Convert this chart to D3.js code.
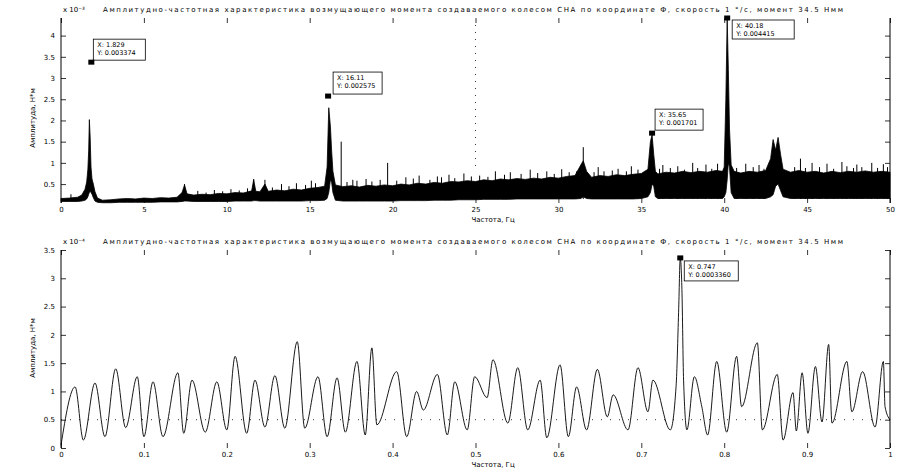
<!DOCTYPE html>
<html><head><meta charset="utf-8">
<script src="https://cdn.jsdelivr.net/npm/d3@7"></script>
<style>
body{margin:0;background:#fff}
text{font-family:"DejaVu Sans",sans-serif;fill:#000}
</style>
</head><body>
<svg id="c" width="906" height="471"></svg>
<script>
// ---------- text ----------
const titleText = "Амплитудно-частотная характеристика возмущающего момента создаваемого колесом СНА по координате Ф, скорость 1 °/с, момент 34.5 Нмм";
const yTitle = "Амплитуда, Н*м";
const xTitle = "Частота, Гц";

// ---------- top panel (values ×10^-3) ----------
const topTicksX = [0,5,10,15,20,25,30,35,40,45,50];
const topTicksY = [0.5,1,1.5,2,2.5,3,3.5,4];
const topF  = [0,0.5,1,1.25,1.45,1.55,1.62,1.67,1.71,1.76,1.81,1.87,1.95,2.05,2.2,2.5,3,3.5,4,4.5,5,5.5,6,6.5,7,7.3,7.45,7.6,8,8.5,9,9.5,10,10.5,11,11.5,11.62,11.75,12,12.3,12.5,13,13.5,14,14.5,15,15.5,15.9,16.05,16.15,16.25,16.32,16.4,16.55,17,17.5,18,18.5,19,19.5,20,20.5,21,21.5,22,22.5,23,23.5,24,24.5,25,25.5,26,26.5,27,27.5,28,28.5,29,29.5,30,30.5,31,31.35,31.5,31.7,32,32.5,33,33.5,34,34.5,35,35.4,35.55,35.65,35.75,35.85,36,36.5,37,37.5,38,38.5,39,39.5,39.9,40,40.1,40.18,40.25,40.32,40.42,40.6,41,41.5,42,42.5,42.8,42.95,43.1,43.25,43.4,43.55,44,44.5,45,45.5,46,46.5,47,47.5,48,48.5,49,49.5,50];
const topHi = [0.16,0.17,0.19,0.24,0.38,0.55,0.85,1.3,2.02,1.6,0.9,0.62,0.5,0.32,0.17,0.12,0.13,0.15,0.16,0.15,0.17,0.16,0.18,0.17,0.19,0.3,0.48,0.27,0.24,0.26,0.25,0.28,0.27,0.3,0.29,0.34,0.6,0.33,0.32,0.5,0.33,0.36,0.34,0.38,0.36,0.4,0.42,0.45,0.9,2.3,1.85,1.3,0.8,0.48,0.44,0.46,0.43,0.47,0.45,0.48,0.46,0.5,0.48,0.52,0.5,0.54,0.52,0.56,0.55,0.58,0.56,0.6,0.58,0.62,0.6,0.63,0.61,0.64,0.62,0.66,0.64,0.68,0.7,0.95,1.05,0.8,0.66,0.7,0.68,0.72,0.7,0.73,0.75,0.85,1.5,1.66,1.2,0.8,0.74,0.78,0.76,0.8,0.77,0.8,0.78,0.82,0.8,0.9,2.5,4.415,3.2,1.8,0.95,0.8,0.76,0.8,0.78,0.82,1.1,1.55,1.3,1.6,1.2,0.85,0.78,0.82,0.78,0.8,0.76,0.8,0.77,0.8,0.78,0.81,0.78,0.8,0.78];
const topLo = [0.09,0.09,0.09,0.1,0.12,0.15,0.2,0.26,0.3,0.33,0.3,0.26,0.18,0.1,0.07,0.06,0.06,0.07,0.07,0.07,0.07,0.07,0.08,0.08,0.08,0.09,0.1,0.1,0.09,0.09,0.09,0.09,0.09,0.1,0.1,0.1,0.11,0.11,0.1,0.1,0.1,0.1,0.1,0.1,0.1,0.11,0.11,0.12,0.16,0.3,0.6,0.55,0.3,0.12,0.1,0.1,0.1,0.1,0.1,0.1,0.1,0.11,0.11,0.11,0.11,0.12,0.12,0.12,0.13,0.13,0.13,0.14,0.14,0.14,0.14,0.15,0.15,0.15,0.15,0.15,0.15,0.15,0.15,0.16,0.2,0.16,0.15,0.15,0.15,0.15,0.15,0.15,0.16,0.2,0.3,0.5,0.45,0.2,0.16,0.16,0.16,0.16,0.16,0.16,0.16,0.16,0.16,0.2,0.3,0.6,1.0,0.9,0.3,0.16,0.16,0.16,0.16,0.16,0.2,0.25,0.45,0.5,0.35,0.2,0.16,0.16,0.16,0.16,0.16,0.16,0.16,0.16,0.16,0.16,0.16,0.16,0.16];
const topSpikeF = [0.6,7.45,8.25,8.75,9.25,9.75,10.25,10.75,11.25,11.62,12.3,12.75,13.3,13.75,14.2,14.75,15.1,15.35,16.9,17.25,17.6,17.85,18.4,18.75,19.25,19.7,20.25,20.8,21.25,21.6,22.25,22.7,22.95,23.4,23.75,24.3,24.75,25.25,25.75,26.2,26.75,27.1,27.75,28.3,28.75,29.3,29.75,30.2,30.65,31.1,31.5,32.15,32.4,32.75,33.25,33.6,34.1,34.4,34.8,36.1,36.3,36.75,37.2,37.6,38.1,38.4,38.9,39.25,39.6,40.75,41.3,41.75,42.1,42.4,44.25,44.6,44.9,45.3,45.75,46.2,46.6,47.1,47.4,47.8,48.0,48.3,48.9,49.25,49.6,49.85];
const topSpikeV = [0.26,0.5,0.34,0.3,0.36,0.33,0.38,0.35,0.4,0.62,0.6,0.42,0.5,0.45,0.52,0.48,0.58,0.52,1.5,0.55,0.6,0.58,0.62,0.56,0.6,1.0,0.58,0.66,0.63,0.7,0.6,0.68,0.66,0.72,0.64,0.75,0.68,0.7,0.67,0.8,0.72,0.78,0.74,0.84,0.76,0.8,0.74,0.85,0.78,0.8,1.37,0.78,0.9,0.8,0.82,0.86,0.8,0.92,0.84,0.86,0.95,0.88,0.92,0.84,1.0,0.88,0.96,0.86,0.98,0.88,0.98,0.9,0.95,0.86,0.9,1.1,0.88,1.0,0.9,0.98,0.86,1.02,0.92,0.88,0.96,0.9,1.0,0.88,0.97,0.9];
const topTipX = [1.829,16.11,35.65,40.18];
const topTipY = [3.374,2.575,1.701,4.415];
const topTipTextX = ["X: 1.829","X: 16.11","X: 35.65","X: 40.18"];
const topTipTextY = ["Y: 0.003374","Y: 0.002575","Y: 0.001701","Y: 0.004415"];

// ---------- bottom panel (values ×10^-4) ----------
const botTicksX = [0,0.1,0.2,0.3,0.4,0.5,0.6,0.7,0.8,0.9,1];
const botTicksY = [0,0.5,1,1.5,2,2.5,3,3.5];
const botF = [0,0.017,0.027,0.041,0.053,0.066,0.078,0.092,0.1,0.111,0.123,0.141,0.148,0.158,0.174,0.188,0.2,0.21,0.224,0.234,0.246,0.258,0.27,0.285,0.294,0.31,0.321,0.333,0.343,0.357,0.367,0.375,0.381,0.405,0.417,0.429,0.437,0.454,0.466,0.475,0.49,0.499,0.514,0.521,0.539,0.551,0.563,0.578,0.586,0.602,0.612,0.622,0.634,0.647,0.659,0.666,0.684,0.696,0.708,0.714,0.735,0.742,0.745,0.747,0.749,0.751,0.755,0.764,0.773,0.78,0.791,0.803,0.815,0.821,0.84,0.846,0.864,0.871,0.883,0.887,0.894,0.901,0.91,0.918,0.926,0.93,0.948,0.954,0.967,0.982,0.992,0.994,1];
const botV = [0.05,1.08,0.14,1.15,0.2,1.4,0.36,1.26,0.2,1.17,0.2,1.33,0.26,1.2,0.28,1.17,0.32,1.62,0.26,1.2,0.37,1.28,0.35,1.88,0.35,1.26,0.2,1.24,0.28,1.53,0.23,1.77,0.41,1.35,0.2,1.0,0.67,1.3,0.23,1.17,0.32,1.26,0.89,1.56,0.44,1.42,0.32,1.2,0.18,1.47,0.2,1.08,0.32,1.39,0.55,0.94,0.32,1.42,0.64,1.2,0.32,1.1,2.4,3.36,2.8,1.2,0.32,1.26,0.73,0.23,1.53,0.28,1.62,0.73,1.86,0.32,1.3,0.14,0.98,0.3,1.33,0.26,1.44,0.46,1.83,0.44,1.53,0.64,1.35,0.37,1.53,0.73,0.5];
const botTipX = [0.747];
const botTipY = [3.36];
const botTipTextX = ["X: 0.747"];
const botTipTextY = ["Y: 0.0003360"];

// ---------- drawing ----------
const svg = d3.select("#c");
svg.append("rect").attr("width",906).attr("height",471).attr("fill","#fff");
const L = 61, R = 890;

function panel(cfg){
  const g = svg.append("g");
  const x = d3.scaleLinear().domain(cfg.xDomain).range([L,R]);
  const y = d3.scaleLinear().domain(cfg.yDomain).range([cfg.bottom,cfg.top]);

  g.append("text").attr("x",103).attr("y",cfg.top-6).attr("font-size",7)
    .attr("textLength",740).attr("lengthAdjust","spacing").text(titleText);
  g.append("text").attr("x",63).attr("y",cfg.top-6).attr("font-size",7).text(cfg.expo);

  const ax = g.append("g").attr("transform",`translate(0,${cfg.bottom})`)
    .call(d3.axisBottom(x).tickValues(cfg.ticksX).tickSize(-5).tickPadding(4).tickFormat(cfg.fmtX));
  const axTop = g.append("g").attr("transform",`translate(0,${cfg.top})`)
    .call(d3.axisTop(x).tickValues(cfg.ticksX).tickSize(-5).tickFormat(""));
  const ay = g.append("g").attr("transform",`translate(${L},0)`)
    .call(d3.axisLeft(y).tickValues(cfg.ticksY).tickSize(-5).tickPadding(6).tickFormat(d3.format("~g")));
  const ayR = g.append("g").attr("transform",`translate(${R},0)`)
    .call(d3.axisRight(y).tickValues(cfg.ticksY).tickSize(-5).tickFormat(""));
  [ax,axTop,ay,ayR].forEach(a=>{
    a.select(".domain").remove();
    a.selectAll("line").attr("stroke","#000").attr("stroke-width",0.8);
    a.selectAll("text").attr("font-size",7).attr("font-family","DejaVu Sans").attr("fill","#000");
  });
  g.append("line").attr("x1",L).attr("x2",L).attr("y1",cfg.top).attr("y2",cfg.bottom).attr("stroke","#000");
  g.append("line").attr("x1",R).attr("x2",R).attr("y1",cfg.top).attr("y2",cfg.bottom).attr("stroke","#000");

  g.append("text").attr("x",(L+R)/2 - 4).attr("y",cfg.bottom+19).attr("font-size",7).text(xTitle);
  g.append("text").attr("transform",`translate(35,${cfg.ymid}) rotate(-90)`)
    .attr("text-anchor","middle").attr("font-size",7).text(yTitle);
  return {g,x,y};
}

// ---- top ----
const T = panel({xDomain:[0,50], yDomain:[0.054,4.415], top:18, bottom:203,
  ticksX:topTicksX, ticksY:topTicksY, fmtX:d3.format("~g"), expo:"x 10\u207B\u00B3", ymid:118});
{
  const {g,x,y} = T;
  g.append("line").attr("x1",x(25)).attr("x2",x(25)).attr("y1",y(4.25)).attr("y2",y(0.85))
    .attr("stroke","#000").attr("stroke-width",0.8).attr("stroke-dasharray","1,6");
  const pts = topF.map((f,i)=>({f,hi:topHi[i],lo:topLo[i]}));
  g.append("path").datum(pts)
    .attr("d",d3.area().x(d=>x(d.f)).y0(d=>y(d.lo)).y1(d=>y(d.hi)))
    .attr("fill","#000").attr("stroke","#000").attr("stroke-width",0.8);
  g.selectAll(".sp").data(topSpikeF).join("line")
    .attr("x1",d=>x(d)).attr("x2",d=>x(d))
    .attr("y1",y(0.15)).attr("y2",(d,i)=>y(topSpikeV[i]))
    .attr("stroke","#000").attr("stroke-width",1);
  const offs = [[2,-23,52,21],[5,-24,49,22],[3,-24,48,21],[5,2,62,19]];
  topTipX.forEach((tx,i)=>{
    const mx = x(tx), my = y(topTipY[i]);
    const [dx,dy,w,h] = offs[i];
    g.append("rect").attr("x",mx+dx).attr("y",my+dy).attr("width",w).attr("height",h)
      .attr("fill","#fff").attr("stroke","#000").attr("stroke-width",0.8);
    g.append("text").attr("x",mx+dx+4).attr("y",my+dy+8).attr("font-size",6.5).text(topTipTextX[i]);
    g.append("text").attr("x",mx+dx+4).attr("y",my+dy+16).attr("font-size",6.5).text(topTipTextY[i]);
    g.append("rect").attr("x",mx-3).attr("y",my-2.5).attr("width",6).attr("height",5).attr("fill","#000");
  });
}

// ---- bottom ----
const B = panel({xDomain:[0,1], yDomain:[0,3.5], top:250, bottom:448,
  ticksX:botTicksX, ticksY:botTicksY, fmtX:d3.format("~g"), expo:"x 10\u207B\u2074", ymid:348});
{
  const {g,x,y} = B;
  g.append("line").attr("x1",L).attr("x2",R).attr("y1",y(0.5)).attr("y2",y(0.5))
    .attr("stroke","#000").attr("stroke-width",0.8).attr("stroke-dasharray","1,8");
  g.append("path").datum(botF.map((f,i)=>[f,botV[i]]))
    .attr("d",d3.line().curve(d3.curveMonotoneX).x(d=>x(d[0])).y(d=>y(d[1])))
    .attr("fill","none").attr("stroke","#000").attr("stroke-width",0.9);
  botTipX.forEach((tx,i)=>{
    const mx = x(tx), my = y(botTipY[i]);
    g.append("rect").attr("x",mx+4).attr("y",my+3).attr("width",54).attr("height",20)
      .attr("fill","#fff").attr("stroke","#000").attr("stroke-width",0.8);
    g.append("text").attr("x",mx+8).attr("y",my+11).attr("font-size",6.5).text(botTipTextX[i]);
    g.append("text").attr("x",mx+8).attr("y",my+19).attr("font-size",6.5).text(botTipTextY[i]);
    g.append("rect").attr("x",mx-3).attr("y",my-2.5).attr("width",6).attr("height",5).attr("fill","#000");
  });
}
</script>
</body></html>
